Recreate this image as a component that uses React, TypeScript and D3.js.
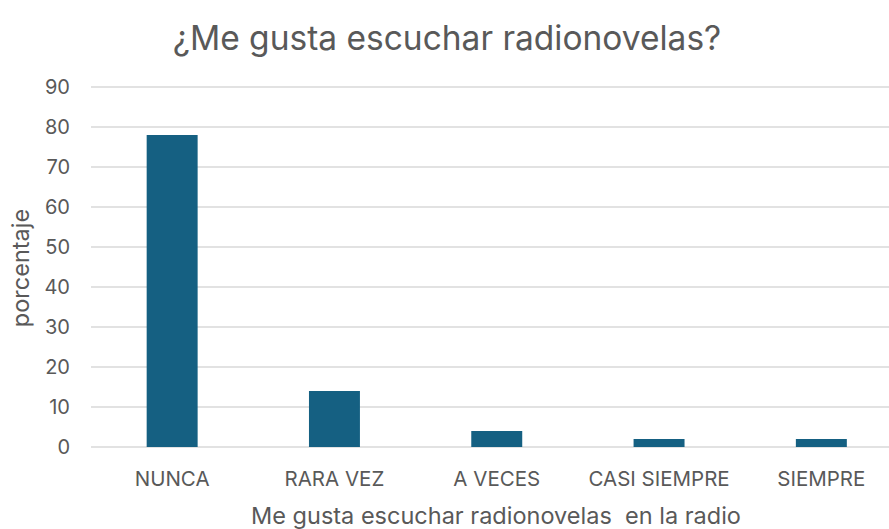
import React, { useEffect, useRef } from 'react';
import * as d3 from 'd3';

const categories = ['NUNCA', 'RARA VEZ', 'A VECES', 'CASI SIEMPRE', 'SIEMPRE'];
const values = [78, 14, 4, 2, 2];
const yTicks = [0, 10, 20, 30, 40, 50, 60, 70, 80, 90];

const App = () => {
    const ref = useRef<SVGSVGElement>(null);

    useEffect(() => {
        const width = 889;
        const height = 529;
        const font = 'Inter, Roboto, sans-serif';
        const textColor = '#595959';
        const svg = d3.select(ref.current)
            .attr('width', width)
            .attr('height', height);
        svg.selectAll('*').remove();

        // plot area runs a bit past the right edge, like the original crop
        const x = d3.scaleBand()
            .domain(categories)
            .range([91, 902.5])
            .paddingInner(0.686)
            .paddingOuter(0.343);
        const y = d3.scaleLinear()
            .domain([0, 90])
            .range([447, 87]);

        // gridlines
        svg.append('g')
            .selectAll('line')
            .data(yTicks)
            .enter()
            .append('line')
            .attr('x1', 91)
            .attr('x2', width)
            .attr('y1', d => y(d))
            .attr('y2', d => y(d))
            .attr('stroke', '#d9d9d9')
            .attr('stroke-width', 1.3);

        // y tick labels
        svg.append('g')
            .selectAll('text')
            .data(yTicks)
            .enter()
            .append('text')
            .text(d => d)
            .attr('x', 70)
            .attr('y', d => y(d))
            .attr('dy', '0.36em')
            .attr('text-anchor', 'end')
            .attr('font-family', font)
            .attr('font-size', 20)
            .attr('fill', textColor);

        // bars
        svg.append('g')
            .selectAll('rect')
            .data(values)
            .enter()
            .append('rect')
            .attr('x', (d, i) => x(categories[i]))
            .attr('y', d => y(d))
            .attr('width', x.bandwidth())
            .attr('height', d => y(0) - y(d))
            .attr('fill', '#156082');

        // category labels
        svg.append('g')
            .selectAll('text')
            .data(categories)
            .enter()
            .append('text')
            .text(d => d)
            .attr('x', d => x(d) + x.bandwidth() / 2)
            .attr('y', 486)
            .attr('text-anchor', 'middle')
            .attr('font-family', font)
            .attr('font-size', 20.5)
            .attr('fill', textColor);

        // titles
        svg.append('text')
            .text('¿Me gusta escuchar radionovelas?')
            .attr('x', 447)
            .attr('y', 50)
            .attr('text-anchor', 'middle')
            .attr('font-family', font)
            .attr('font-size', 33.5)
            .attr('fill', textColor);

        svg.append('text')
            .text('Me gusta escuchar radionovelas  en la radio')
            .attr('x', 496)
            .attr('y', 524)
            .attr('text-anchor', 'middle')
            .attr('font-family', font)
            .attr('font-size', 23.5)
            .attr('fill', textColor)
            .style('white-space', 'pre');

        svg.append('text')
            .text('porcentaje')
            .attr('transform', 'translate(29,268) rotate(-90)')
            .attr('text-anchor', 'middle')
            .attr('font-family', font)
            .attr('font-size', 23.5)
            .attr('fill', textColor);
    }, []);

    return <svg ref={ref} style={{ position: 'absolute', left: 0, top: 0 }} />;
};

export default App;
